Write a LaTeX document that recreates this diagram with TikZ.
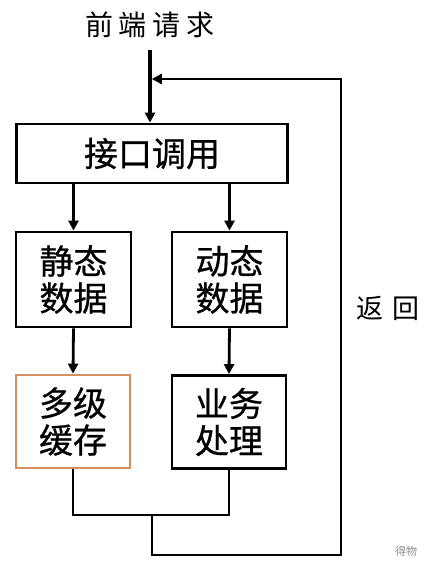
\documentclass[tikz,border=0pt]{standalone}
\usepackage{fontspec}
\setmainfont{Noto Sans CJK SC}
\newfontfamily\boxfont[FakeBold=0.7]{Noto Sans CJK SC}
\usetikzlibrary{arrows.meta}
\definecolor{orng}{RGB}{214,142,92}
\begin{document}
\begin{tikzpicture}[x=1pt,y=-1pt,
 box/.style={draw, line width=2.8pt, inner sep=0pt, align=center, font=\boxfont\fontsize{34}{37}\selectfont},
 ln/.style={line width=2.8pt},
 arr/.style={ln, -{Triangle[length=10pt,width=10pt]}},
 lbl/.style={inner sep=0pt, font=\fontsize{28}{30}\selectfont},
]
\useasboundingbox (0,0) rectangle (428,566);
\node[lbl] (req) at (150,25) {前\kern6pt 端\kern6pt 请\kern6pt 求};
\node[box, minimum width=271pt, minimum height=59pt] (api) at (152,153.5) {接口调用};
\node[box, minimum width=115pt, minimum height=95pt] (static) at (73.5,279.5) {静态\\数据};
\node[box, minimum width=115pt, minimum height=95pt] (dyn) at (229.5,279.5) {动态\\数据};
\node[box, draw=orng, minimum width=114pt, minimum height=93pt] (cache) at (73,421.5) {多级\\缓存};
\node[box, minimum width=114pt, minimum height=93pt] (biz) at (229,422) {业务\\处理};
\node[lbl, font=\fontsize{27}{30}\selectfont] (ret) at (388,308) {返\kern9pt 回};
\node[inner sep=0pt, text=black!45, font=\fontsize{11}{12}\selectfont] (wm) at (406,551) {得物};

\coordinate (top) at (150,50);
\coordinate (m) at (152,515);
\coordinate (bl) at (152,555);
\coordinate (tr) at (341,79);

\draw[arr, line width=3.8pt] (top) -- (top |- api.north);
\draw[arr] (static.north |- api.south) -- (static.north);
\draw[arr] (dyn.north |- api.south) -- (dyn.north);
\draw[arr] (static.south) -- (cache.north);
\draw[arr] (dyn.south) -- (biz.north);
\draw[ln] (cache.south) |- (biz.south |- m) -- (biz.south);
\draw[arr, shorten >=1.8pt] (m) -- (bl) -| (tr) -- (top |- tr);
\end{tikzpicture}
\end{document}
